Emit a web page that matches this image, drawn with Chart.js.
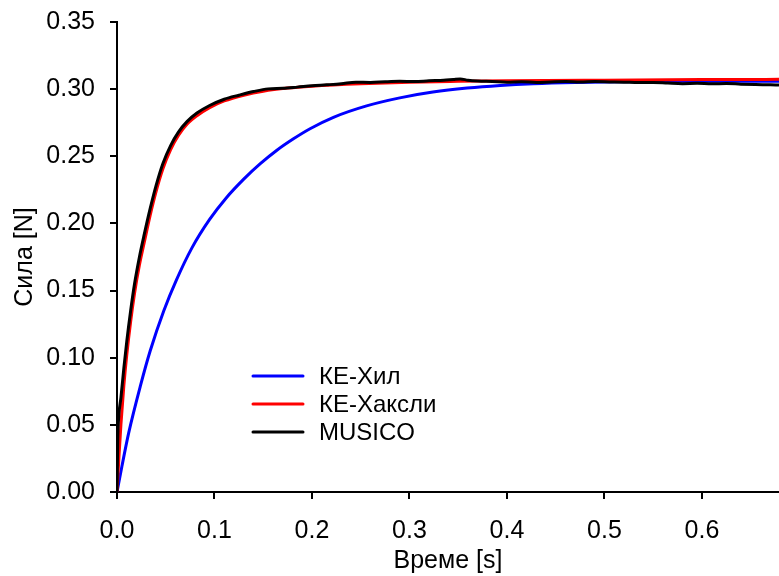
<!DOCTYPE html>
<html lang="sr">
<head>
    <meta charset="UTF-8">
    <title>Сила - Време</title>
    <script src="https://cdn.jsdelivr.net/npm/chart.js"></script>
    <style>
        body {
            margin: 0;
            background: #fff;
        }
        #wrap {
            width: 779px;
            height: 576px;
        }
    </style>
</head>
<body>
    <div id="wrap">
        <canvas id="forceChart" width="779" height="576"></canvas>
    </div>

    <script>
        // Axis ticks
        const xTickValues = [0, 0.1, 0.2, 0.3, 0.4, 0.5, 0.6];
        const xTickLabels = ['0.0', '0.1', '0.2', '0.3', '0.4', '0.5', '0.6'];
        const yTickValues = [0, 0.05, 0.10, 0.15, 0.20, 0.25, 0.30, 0.35];
        const yTickLabels = ['0.00', '0.05', '0.10', '0.15', '0.20', '0.25', '0.30', '0.35'];

        // КЕ-Хил
        const hillTime = [0, 0.005, 0.012, 0.024, 0.034, 0.048, 0.061, 0.077, 0.095, 0.112, 0.13, 0.147,
            0.164, 0.181, 0.198, 0.222, 0.256, 0.29, 0.324, 0.359, 0.393, 0.427, 0.47, 0.52, 0.58, 0.64, 0.679];
        const hillForce = [0, 0.019, 0.044, 0.079, 0.105, 0.135, 0.158, 0.182, 0.203, 0.219, 0.233, 0.2445,
            0.2545, 0.263, 0.2705, 0.279, 0.2875, 0.2935, 0.2978, 0.3008, 0.3028, 0.3041, 0.3050, 0.3055, 0.3058, 0.3059, 0.3059];

        // КЕ-Хаксли
        const huxleyTime = [0, 0.002, 0.004, 0.007, 0.010, 0.014, 0.018, 0.023, 0.028, 0.034, 0.040, 0.047,
            0.055, 0.063, 0.072, 0.082, 0.095, 0.11, 0.13, 0.15, 0.175, 0.2, 0.25, 0.3, 0.35, 0.4, 0.5, 0.6, 0.679];
        const huxleyForce = [0, 0.026, 0.050, 0.079, 0.102, 0.127, 0.148, 0.169, 0.186, 0.206, 0.2235, 0.2405,
            0.255, 0.2655, 0.274, 0.2802, 0.2862, 0.2912, 0.2955, 0.2985, 0.3008, 0.3022, 0.3040, 0.3052, 0.3058, 0.3062, 0.3067, 0.3071, 0.3073];

        // MUSICO
        const musicoTime = [0, 0.0008, 0.002, 0.004, 0.007, 0.010, 0.014, 0.018, 0.023, 0.028, 0.034, 0.040,
            0.047, 0.055, 0.063, 0.072, 0.082, 0.095, 0.11, 0.125, 0.14, 0.155, 0.17, 0.185, 0.2, 0.215, 0.23,
            0.245, 0.26, 0.275, 0.29, 0.305, 0.32, 0.335, 0.345, 0.352, 0.36, 0.37, 0.385, 0.4, 0.415, 0.43,
            0.445, 0.46, 0.475, 0.49, 0.505, 0.52, 0.535, 0.55, 0.565, 0.58, 0.595, 0.61, 0.625, 0.64, 0.655, 0.67, 0.679];
        const musicoForce = [0, 0.040, 0.058, 0.070, 0.092, 0.112, 0.135, 0.155, 0.175, 0.192, 0.211, 0.228,
            0.2445, 0.258, 0.268, 0.276, 0.2822, 0.2878, 0.2925, 0.2955, 0.2982, 0.3002, 0.3006, 0.3015, 0.3025, 0.3032, 0.3040,
            0.3052, 0.3050, 0.3055, 0.3058, 0.3056, 0.3062, 0.3066, 0.3072, 0.3076, 0.3066, 0.3060, 0.3057, 0.3052, 0.3055, 0.3050,
            0.3054, 0.3057, 0.3053, 0.3056, 0.3054, 0.3052, 0.3049, 0.3050, 0.3045, 0.3041, 0.3043, 0.3040, 0.3042, 0.3037, 0.3034, 0.3032, 0.3030];

        const FONT = 'Arial, "Liberation Sans", sans-serif';

        function toPoints(xs, ys) {
            return xs.map((x, i) => ({ x: x, y: ys[i] }));
        }

        // Legend drawn inside the plot, lower middle
        const insideLegend = {
            id: 'insideLegend',
            afterDatasetsDraw(chart) {
                const ctx = chart.ctx;
                const x0 = 253, x1 = 303, textX = 319;
                const rows = [376, 404, 432];
                ctx.save();
                ctx.font = '24px ' + FONT;
                ctx.textBaseline = 'middle';
                ctx.textAlign = 'left';
                ctx.lineCap = 'round';
                chart.data.datasets.forEach((ds, i) => {
                    ctx.strokeStyle = ds.borderColor;
                    ctx.lineWidth = 3;
                    ctx.beginPath();
                    ctx.moveTo(x0, rows[i]);
                    ctx.lineTo(x1, rows[i]);
                    ctx.stroke();
                    ctx.fillStyle = '#000';
                    ctx.fillText(ds.label, textX, rows[i] + 1);
                });
                ctx.restore();
            }
        };

        const ctx = document.getElementById('forceChart').getContext('2d');
        new Chart(ctx, {
            type: 'line',
            data: {
                datasets: [
                    {
                        label: 'КЕ-Хил',
                        data: toPoints(hillTime, hillForce),
                        borderColor: '#0000ff',
                        borderWidth: 3,
                        order: 2
                    },
                    {
                        label: 'КЕ-Хаксли',
                        data: toPoints(huxleyTime, huxleyForce),
                        borderColor: '#ff0000',
                        borderWidth: 3,
                        order: 1
                    },
                    {
                        label: 'MUSICO',
                        data: toPoints(musicoTime, musicoForce),
                        borderColor: '#000000',
                        borderWidth: 3,
                        order: 0
                    }
                ]
            },
            options: {
                responsive: false,
                animation: false,
                events: [],
                datasets: {
                    line: {
                        pointRadius: 0,
                        fill: false,
                        cubicInterpolationMode: 'monotone'
                    }
                },
                layout: {
                    autoPadding: false,
                    padding: { top: 22, right: 0, bottom: 0, left: 0 }
                },
                plugins: {
                    legend: { display: false },
                    tooltip: { enabled: false }
                },
                scales: {
                    x: {
                        type: 'linear',
                        min: 0,
                        max: 0.679,
                        afterBuildTicks: (scale) => {
                            scale.ticks = xTickValues.map(v => ({ value: v }));
                        },
                        afterFit: (scale) => {
                            scale.height = 84;
                            scale.paddingLeft = 0;
                            scale.paddingRight = 0;
                        },
                        ticks: {
                            color: '#000',
                            font: { family: FONT, size: 25 },
                            padding: 17,
                            maxRotation: 0,
                            callback: (value, index) => xTickLabels[index]
                        },
                        grid: {
                            drawOnChartArea: false,
                            drawTicks: true,
                            tickLength: 7,
                            color: '#000',
                            lineWidth: 2
                        },
                        border: { display: true, color: '#000', width: 2 },
                        title: {
                            display: true,
                            text: 'Време [s]',
                            color: '#000',
                            font: { family: FONT, size: 25, lineHeight: 1.2 },
                            padding: { top: 0, bottom: 0 }
                        }
                    },
                    y: {
                        type: 'linear',
                        min: 0,
                        max: 0.35,
                        afterBuildTicks: (scale) => {
                            scale.ticks = yTickValues.map(v => ({ value: v }));
                        },
                        afterFit: (scale) => {
                            scale.width = 117;
                            scale.paddingTop = 0;
                            scale.paddingBottom = 0;
                        },
                        ticks: {
                            color: '#000',
                            font: { family: FONT, size: 25 },
                            padding: 15,
                            callback: (value, index) => yTickLabels[index]
                        },
                        grid: {
                            drawOnChartArea: false,
                            drawTicks: true,
                            tickLength: 7,
                            color: '#000',
                            lineWidth: 2
                        },
                        border: { display: true, color: '#000', width: 2 },
                        title: {
                            display: true,
                            text: 'Сила [N]',
                            color: '#000',
                            font: { family: FONT, size: 25, lineHeight: 1.2 },
                            padding: { top: 10, bottom: 0 }
                        }
                    }
                }
            },
            plugins: [insideLegend]
        });
    </script>
</body>
</html>
